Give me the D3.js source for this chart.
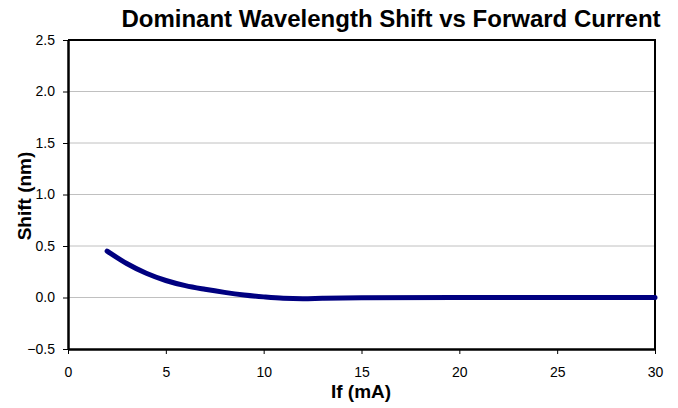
<!DOCTYPE html>
<html>
<head>
<meta charset="utf-8">
<script src="https://cdn.jsdelivr.net/npm/d3@7"></script>
<style>
  html, body { margin: 0; padding: 0; background: #fff; }
  svg { display: block; font-family: Arial, "Liberation Sans", sans-serif; }
</style>
</head>
<body>
<svg id="chart" width="678" height="408"></svg>
<script>
// Data
const current = [2, 3, 4, 5, 6, 7, 8, 9, 10, 11, 12, 13, 15, 20, 25, 30];
const shift   = [0.45, 0.33, 0.235, 0.165, 0.115, 0.08, 0.05, 0.025, 0.006, -0.008, -0.012, -0.008, -0.003, 0, 0, 0];
const xTicks = [0, 5, 10, 15, 20, 25, 30];
const yTicks = [-0.5, 0.0, 0.5, 1.0, 1.5, 2.0, 2.5];
const titleText = "Dominant Wavelength Shift vs Forward Current";
const xTitle = "If (mA)";
const yTitle = "Shift (nm)";

const svg = d3.select("#chart");
const m = { left: 68, right: 655, top: 40, bottom: 349 };

const x = d3.scaleLinear().domain([0, 30]).range([m.left, m.right]);
const y = d3.scaleLinear().domain([-0.5, 2.5]).range([m.bottom, m.top]);

// Gridlines
svg.append("g").selectAll("line")
  .data(yTicks.filter(t => t > -0.5 && t < 2.5))
  .join("line")
  .attr("x1", m.left).attr("x2", m.right)
  .attr("y1", d => y(d)).attr("y2", d => y(d))
  .attr("stroke", "#c0c0c0").attr("stroke-width", 1);

// Plot border (top/right)
svg.append("path")
  .attr("d", `M${m.left},${m.top}H${m.right}V${m.bottom}`)
  .attr("fill", "none").attr("stroke", "#000").attr("stroke-width", 2);

// Axes
const xAxis = d3.axisBottom(x).tickValues(xTicks).tickFormat(d3.format("d"))
  .tickSizeInner(5).tickSizeOuter(0).tickPadding(13);
const gx = svg.append("g").attr("transform", `translate(0,${m.bottom})`).call(xAxis);
gx.select(".domain").attr("stroke-width", 2.5);
gx.selectAll(".tick line").attr("stroke-width", 1);
gx.selectAll("text").attr("font-size", 14).attr("font-family", "Arial, 'Liberation Sans', sans-serif").attr("fill", "#000");

const yAxis = d3.axisLeft(y).tickValues(yTicks).tickFormat(d3.format(".1f"))
  .tickSizeInner(5).tickSizeOuter(0).tickPadding(8);
const gy = svg.append("g").attr("transform", `translate(${m.left},0)`).call(yAxis);
gy.select(".domain").attr("stroke-width", 2.5);
gy.selectAll(".tick line").attr("stroke-width", 1);
gy.selectAll("text").attr("font-size", 14).attr("font-family", "Arial, 'Liberation Sans', sans-serif").attr("fill", "#000");

// Line
const line = d3.line()
  .x((d, i) => x(current[i]))
  .y((d, i) => y(shift[i]))
  .curve(d3.curveMonotoneX);
svg.append("path")
  .datum(shift)
  .attr("d", line)
  .attr("fill", "none")
  .attr("stroke", "#000080")
  .attr("stroke-width", 5)
  .attr("stroke-linecap", "round")
  .attr("stroke-linejoin", "round");

// Titles
svg.append("text")
  .attr("x", 391).attr("y", 27)
  .attr("text-anchor", "middle")
  .attr("font-size", 24).attr("font-weight", "bold")
  .text(titleText);

svg.append("text")
  .attr("x", 361).attr("y", 398)
  .attr("text-anchor", "middle")
  .attr("font-size", 19).attr("font-weight", "bold")
  .text(xTitle);

svg.append("text")
  .attr("transform", `translate(31,196) rotate(-90)`)
  .attr("text-anchor", "middle")
  .attr("font-size", 19).attr("font-weight", "bold")
  .text(yTitle);
</script>
</body>
</html>
